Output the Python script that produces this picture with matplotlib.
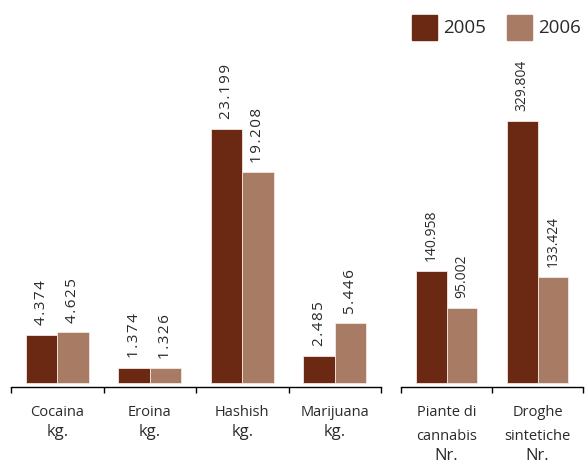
import numpy as np
import matplotlib as mpl
mpl.use('Agg')
from matplotlib import pyplot as plt
from matplotlib.patches import Rectangle

# data
left_cats = ["Cocaina", "Eroina", "Hashish", "Marijuana"]
left_units = ["kg.", "kg.", "kg.", "kg."]
left_2005 = [4.374, 1.374, 23.199, 2.485]
left_2006 = [4.625, 1.326, 19.208, 5.446]

right_cats = [["Piante di", "cannabis"], ["Droghe", "sintetiche"]]
right_units = ["Nr.", "Nr."]
right_2005 = [140.958, 329.804]
right_2006 = [95.002, 133.424]

years = ["2005", "2006"]
c2005 = '#6b2914'
c2006 = '#a87b65'
txt = '#2a2a2a'

plt.rcParams['font.family'] = ['Open Sans', 'DejaVu Sans']

W, H = 588, 463
fig = plt.figure(figsize=(W/100, H/100), dpi=100)

def px_axes(x0, x1, ytop, ybot):
    #pixel box (from top-left) -> figure fraction
    return fig.add_axes([x0/W, 1 - ybot/H, (x1-x0)/W, (ybot-ytop)/H])

def panel(ax, v05, v06, fmt, fs):
    n = len(v05)
    x = np.arange(n)
    w = 0.34
    b1 = ax.bar(x - w/2, v05, w, color=c2005, edgecolor='#f3e8e2', linewidth=0.6)
    b2 = ax.bar(x + w/2, v06, w, color=c2006, edgecolor='#f3e8e2', linewidth=0.6)
    for bars, vals in ((b1, v05), (b2, v06)):
        for r, v in zip(bars, vals):
            ax.annotate(fmt(v), (r.get_x() + r.get_width()/2, v),
                        xytext=(0, 7), textcoords='offset points',
                        rotation=90, ha='center', va='bottom',
                        fontsize=fs, color=txt)
    ax.set_xlim(-0.5, n - 0.5)
    ax.set_xticks(np.arange(n + 1) - 0.5)
    ax.set_xticklabels([])
    ax.tick_params(axis='x', direction='out', length=4, width=1, color='black')
    ax.set_yticks([])
    for s in ['top', 'left', 'right']:
        ax.spines[s].set_visible(False)
    ax.spines['bottom'].set_linewidth(1)
    return b1, b2

def lab(ax, i, ypx, s, fs):
    #label below the axis, ypx = pixel row in the figure
    ax.text(i, -(ypx - 386.5)/386.5, s, transform=ax.get_xaxis_transform(),
            ha='center', va='center', fontsize=fs, color=txt)

# left panel (kg.), digits slightly spaced out like the original
spaced = lambda v: '\u200a'.join(f"{v:.3f}")
axl = px_axes(11, 381, 0, 386.5)
axl.set_ylim(-3.5/10.96, 383/10.96)
panel(axl, left_2005, left_2006, spaced, 11)
for i, (c, u) in enumerate(zip(left_cats, left_units)):
    lab(axl, i, 413, c, 10.5)
    lab(axl, i, 432, u, 12)

# right panel (Nr.)
axr = px_axes(401, 583, 0, 386.5)
axr.set_ylim(-3.5/0.794, 383/0.794)
panel(axr, right_2005, right_2006, lambda v: f"{v:.3f}", 10)
for i, (c, u) in enumerate(zip(right_cats, right_units)):
    lab(axr, i, 412, c[0], 10.5)
    lab(axr, i, 436, c[1], 10.5)
    lab(axr, i, 456, u, 12)

# legend
for x0, col, y in ((412, c2005, years[0]), (507, c2006, years[1])):
    fig.add_artist(Rectangle((x0/W, 1 - 40/H), 25/W, 25/H,
                             transform=fig.transFigure, color=col))
    fig.text((x0 + 31)/W, 1 - 28/H, y, ha='left', va='center',
             fontsize=13.5, color=txt)

fig.savefig('out.png', dpi=100)
plt.close('all')
